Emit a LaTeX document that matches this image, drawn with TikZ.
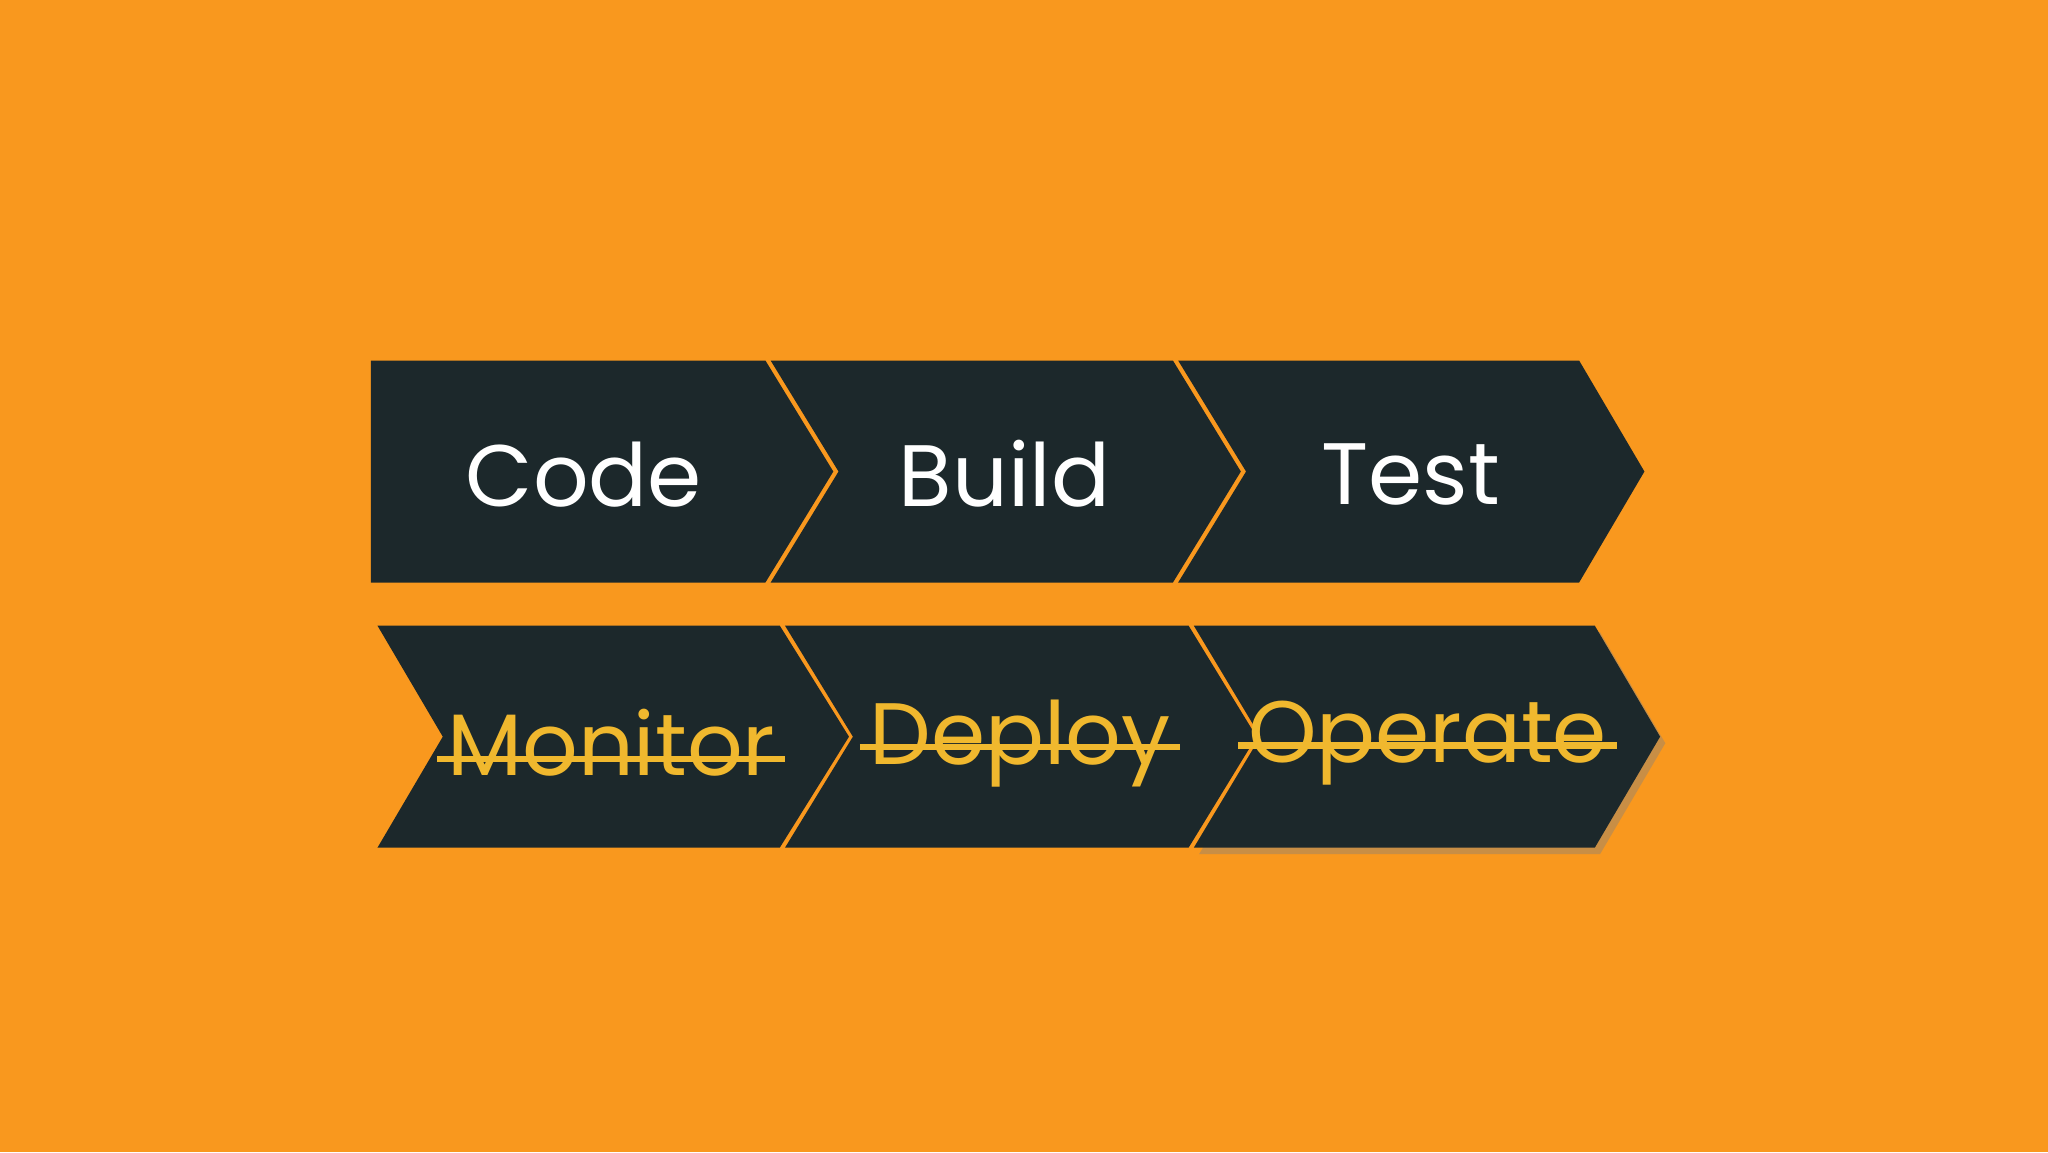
\documentclass[tikz,border=0pt]{standalone}
\usepackage{fontspec}
\setmainfont{Poppins}
\usetikzlibrary{positioning,shadows}
\definecolor{bgorange}{HTML}{F9981E}
\definecolor{darkslate}{HTML}{1C282B}
\definecolor{strikeyellow}{HTML}{F0B82E}
\begin{document}
\begin{tikzpicture}[
    stage/.style={fill=darkslate},
    done/.style={font=\fontsize{19}{22}\selectfont, text=white},
    todo/.style={font=\fontsize{19}{22}\selectfont, text=strikeyellow},
    strike/.style={strikeyellow, line width=1.4pt}
]
    \fill[bgorange] (0,0) rectangle (15.68,8.82);
    % top row
    \fill[stage] (2.84,6.06) -- (5.86,6.06) -- (6.38,5.21) -- (5.86,4.36) -- (2.84,4.36) -- cycle;
    \fill[stage] (5.90,6.06) -- (8.98,6.06) -- (9.50,5.21) -- (8.98,4.36) -- (5.90,4.36) -- (6.42,5.21) -- cycle;
    \fill[stage] (9.02,6.06) -- (12.09,6.06) -- (12.59,5.21) -- (12.09,4.36) -- (9.02,4.36) -- (9.54,5.21) -- cycle;
    % bottom row
    \fill[stage] (2.89,4.03) -- (5.97,4.03) -- (6.50,3.18) -- (5.97,2.33) -- (2.89,2.33) -- (3.39,3.18) -- cycle;
    \fill[stage] (6.01,4.03) -- (9.10,4.03) -- (9.62,3.18) -- (9.10,2.33) -- (6.01,2.33) -- (6.53,3.18) -- cycle;
    \fill[stage, drop shadow={shadow xshift=0.04, shadow yshift=-0.05, opacity=0.4}] (9.14,4.03) -- (12.21,4.03) -- (12.71,3.18) -- (12.21,2.33) -- (9.14,2.33) -- (9.65,3.18) -- cycle;
    % labels
    \node[done] (code) at (4.47,5.19) {Code};
    \node[done] (build) at (7.69,5.19) {Build};
    \node[done] (test) at (10.80,5.19) {Test};
    \node[todo] (monitor) at (4.68,3.13) {Monitor};
    \node[todo] (deploy) at (7.81,3.13) {Deploy};
    \node[todo] (operate) at (10.93,3.13) {Operate};
    \foreach \n in {monitor,deploy,operate}
        \draw[strike] ([xshift=0.05cm,yshift=0.13cm]\n.base west) -- ([xshift=-0.05cm,yshift=0.13cm]\n.base east);
\end{tikzpicture}
\end{document}
